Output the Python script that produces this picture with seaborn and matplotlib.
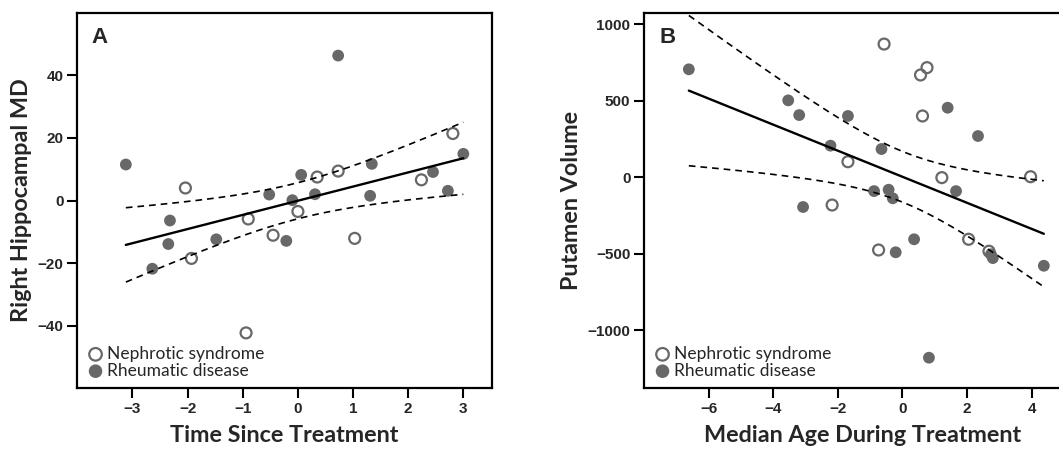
import numpy as np
import matplotlib
matplotlib.use("Agg")
import matplotlib.pyplot as plt
import seaborn as sns

sns.set_style("ticks")

# --- Panel A: Time Since Treatment vs Right Hippocampal MD ---
a_neph_x = [-2.04, -1.93, -0.90, -0.94, -0.45, 0.00, 0.35, 0.73, 1.03, 2.24, 2.81]
a_neph_y = [4.0, -18.5, -5.9, -42.3, -11.1, -3.5, 7.5, 9.4, -12.1, 6.6, 21.4]
a_rheu_x = [-3.12, 0.73, -2.32, -2.35, -2.64, -1.48, -0.52, -0.21, -0.10, 0.06,
            0.31, 1.34, 1.31, 2.45, 2.72, 3.00]
a_rheu_y = [11.5, 46.3, -6.4, -13.9, -21.8, -12.4, 1.9, -12.9, 0.1, 8.2,
            2.0, 11.7, 1.5, 9.1, 3.1, 14.9]
a_xticks = [-3, -2, -1, 0, 1, 2, 3]
a_yticks = [-40, -20, 0, 20, 40]

# --- Panel B: Median Age During Treatment vs Putamen Volume ---
b_neph_x = [-0.57, 0.56, 0.76, 0.62, -1.69, -2.18, -0.74, 1.22, 2.05, 3.97, 2.68]
b_neph_y = [869, 667, 715, 399, 100, -183, -477, -4, -407, 2, -485]
b_rheu_x = [-6.62, -3.54, -3.20, -3.08, -2.23, -1.69, -0.65, -0.88, -0.43, -0.30,
            -0.21, 0.36, 0.82, 1.40, 1.66, 2.34, 2.74, 2.80, 4.38]
b_rheu_y = [704, 501, 405, -196, 205, 399, 183, -92, -83, -139,
            -492, -407, -1181, 453, -92, 268, -505, -530, -580]
b_xticks = [-6, -4, -2, 0, 2, 4]
b_yticks = [-1000, -500, 0, 500, 1000]

GRAY = "#686868"
TICK_FONT = "Liberation Sans"
LABEL_FONT = "Lato"


def ci_lines(x, y, xs, t):
    # analytic 95% confidence band of the OLS fit
    x = np.asarray(x, float)
    y = np.asarray(y, float)
    n = len(x)
    b1, b0 = np.polyfit(x, y, 1)
    resid = y - (b0 + b1 * x)
    s = np.sqrt(np.sum(resid ** 2) / (n - 2))
    se = s * np.sqrt(1 / n + (xs - x.mean()) ** 2 / np.sum((x - x.mean()) ** 2))
    yhat = b0 + b1 * xs
    return yhat - t * se, yhat + t * se


def fmt(v):
    return str(v).replace("-", "\u2212")


def panel(ax, nx, ny, rx, ry, t, letter, xlabel, ylabel, xlim, ylim, xticks, yticks):
    sns.scatterplot(x=nx, y=ny, ax=ax, s=62, facecolor="none", edgecolor=GRAY,
                    linewidth=1.6, label="Nephrotic syndrome", zorder=3)
    sns.scatterplot(x=rx, y=ry, ax=ax, s=72, color=GRAY, edgecolor="none",
                    label="Rheumatic disease", zorder=3)

    all_x = np.array(nx + rx, float)
    all_y = np.array(ny + ry, float)
    sns.regplot(x=all_x, y=all_y, ax=ax, scatter=False, ci=None,
                line_kws=dict(color="black", lw=1.7, zorder=4))
    xs = np.linspace(all_x.min(), all_x.max(), 200)
    lo, hi = ci_lines(all_x, all_y, xs, t)
    for band in (lo, hi):
        ax.plot(xs, band, color="black", lw=1.2, ls=(0, (4, 3)), zorder=4)

    ax.set_xlim(*xlim)
    ax.set_ylim(*ylim)
    tick_kw = dict(fontfamily=TICK_FONT, fontweight="bold", fontsize=11)
    ax.set_xticks(xticks, [fmt(v) for v in xticks], **tick_kw)
    ax.set_yticks(yticks, [fmt(v) for v in yticks], **tick_kw)
    for sp in ax.spines.values():
        sp.set_linewidth(1.6)
        sp.set_color("black")
    ax.tick_params(length=7, width=1.5, pad=3, color="black")

    ax.set_xlabel(xlabel, fontfamily=LABEL_FONT, fontweight="bold", fontsize=16.8, labelpad=6)
    ax.set_ylabel(ylabel, fontfamily=LABEL_FONT, fontweight="bold", fontsize=16.8, labelpad=4)
    ax.text(0.035, 0.962, letter, transform=ax.transAxes, ha="left", va="top",
            fontfamily=TICK_FONT, fontweight="bold", fontsize=16)

    ax.legend(loc="lower left", frameon=False, prop=dict(family=LABEL_FONT, size=12.5),
              handletextpad=0.15, borderaxespad=0.25, labelspacing=0.05,
              handlelength=1.0, borderpad=0.3, markerscale=1.15)


fig = plt.figure(figsize=(10.59, 4.49), dpi=100)
axA = fig.add_axes([0.073, 0.1352, 0.3916, 0.8365])
axB = fig.add_axes([0.6084, 0.1352, 0.4114, 0.8365])

panel(axA, a_neph_x, a_neph_y, a_rheu_x, a_rheu_y, 2.060, "A",
      "Time Since Treatment", "Right Hippocampal MD",
      (-4.0, 3.52), (-60, 60), a_xticks, a_yticks)
panel(axB, b_neph_x, b_neph_y, b_rheu_x, b_rheu_y, 2.048, "B",
      "Median Age During Treatment", "Putamen Volume",
      (-8.0, 5.5), (-1381, 1074), b_xticks, b_yticks)

fig.savefig("out.png", dpi=100)
